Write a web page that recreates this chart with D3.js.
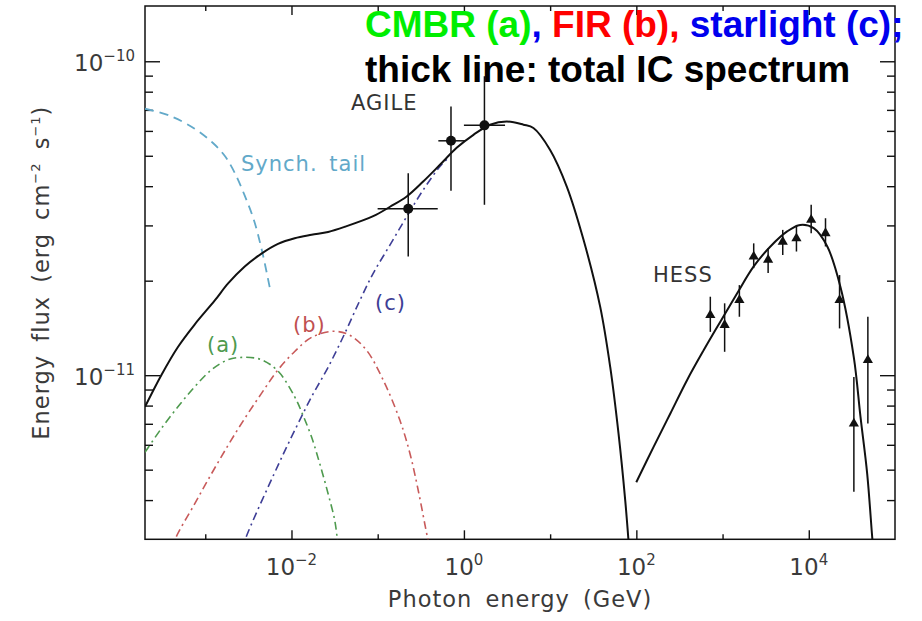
<!DOCTYPE html>
<html>
<head>
<meta charset="utf-8">
<script src="https://cdn.jsdelivr.net/npm/d3@7"></script>
<style>
  body { margin: 0; background: #fff; }
  .axis-text { font-family: "DejaVu Sans", sans-serif; }
  .caption { font-family: "Liberation Sans", Arial, sans-serif; font-weight: bold; }
</style>
</head>
<body>
<div id="container"></div>
<script>
// values: photon energy (GeV) , energy flux (erg cm^-2 s^-1)
const synchTail = [[2.0e-4, 7.06e-11], [3.86e-4, 6.71e-11], [7.53e-4, 6.10e-11], [1.22e-3, 5.50e-11],
  [1.68e-3, 5.00e-11], [2.20e-3, 4.41e-11], [2.87e-3, 3.73e-11], [3.65e-3, 3.13e-11], [4.52e-3, 2.51e-11],
  [5.60e-3, 1.90e-11]];

const cmbr = [[2.0e-4, 5.68e-12], [3.09e-4, 6.76e-12], [4.82e-4, 7.93e-12], [7.53e-4, 9.18e-12],
  [1.18e-3, 1.04e-11], [1.84e-3, 1.12e-11], [2.87e-3, 1.14e-11], [4.49e-3, 1.12e-11], [6.98e-3, 1.03e-11],
  [1.09e-2, 8.53e-12], [1.36e-2, 7.45e-12], [1.71e-2, 6.35e-12], [2.13e-2, 5.22e-12], [2.66e-2, 4.19e-12],
  [3.18e-2, 3.44e-12], [3.42e-2, 2.97e-12], [3.6e-2, 2.7e-12]];

const fir = [[4.1e-4, 2.7e-12], [4.41e-4, 2.97e-12], [7.53e-4, 3.89e-12], [1.18e-3, 4.85e-12], [1.84e-3, 5.98e-12],
  [2.87e-3, 7.28e-12], [4.49e-3, 8.75e-12], [6.98e-3, 1.04e-11], [1.09e-2, 1.19e-11], [1.71e-2, 1.32e-11],
  [3.04e-2, 1.38e-11], [4.75e-2, 1.34e-11], [7.43e-2, 1.20e-11], [0.116, 9.64e-12], [0.181, 7.18e-12],
  [0.237, 5.62e-12], [0.295, 4.30e-12], [0.370, 3.13e-12], [0.386, 2.97e-12], [0.40, 2.7e-12]];

const starlight = [[2.6e-3, 2.7e-12], [2.87e-3, 2.97e-12], [6.98e-3, 5.16e-12], [1.09e-2, 6.67e-12], [1.71e-2, 8.53e-12],
  [2.66e-2, 1.06e-11], [4.16e-2, 1.36e-11], [6.21e-2, 1.73e-11], [8.87e-2, 2.11e-11], [0.139, 2.60e-11],
  [0.217, 3.20e-11], [0.337, 3.89e-11], [0.527, 4.62e-11], [0.690, 4.98e-11]];

const icTotal = [[2.0e-4, 7.93e-12], [3.09e-4, 1.00e-11], [4.82e-4, 1.23e-11], [7.53e-4, 1.45e-11],
  [1.29e-3, 1.73e-11], [1.84e-3, 1.96e-11], [2.87e-3, 2.22e-11], [4.49e-3, 2.44e-11], [6.98e-3, 2.62e-11],
  [1.09e-2, 2.73e-11], [1.71e-2, 2.80e-11], [2.66e-2, 2.86e-11], [4.16e-2, 2.97e-11], [8.87e-2, 3.21e-11],
  [0.139, 3.44e-11], [0.217, 3.71e-11], [0.337, 4.14e-11], [0.527, 4.68e-11], [0.824, 5.30e-11],
  [1.29, 5.83e-11], [2.01, 6.28e-11], [3.14, 6.43e-11], [4.90, 6.28e-11], [6.40, 6.13e-11], [10.0, 5.22e-11],
  [15.6, 3.99e-11], [24.4, 2.70e-11], [38.1, 1.65e-11], [49.8, 1.06e-11], [62.1, 6.52e-12], [74.3, 3.99e-12],
  [81.1, 2.97e-12], [84, 2.6e-12]];

const icTotalTeV = [[99.8, 4.56e-12], [158, 5.90e-12], [248, 7.55e-12], [387, 9.64e-12], [603, 1.20e-11],
  [942, 1.48e-11], [1472, 1.82e-11], [2296, 2.22e-11], [3589, 2.57e-11], [5610, 2.87e-11], [7960, 3.01e-11],
  [11400, 2.94e-11], [16400, 2.57e-11], [23300, 1.91e-11], [33300, 1.14e-11], [39800, 7.36e-12],
  [47600, 4.85e-12], [54400, 3.05e-12], [56000, 2.8e-12]];

// AGILE points with energy bins and flux errors
const agileE = [0.226, 0.708, 1.73];
const agileElo = [0.0998, 0.505, 1.0];
const agileEhi = [0.497, 1.03, 3.0];
const agileF = [3.39e-11, 5.58e-11, 6.25e-11];
const agileFlo = [2.39e-11, 3.87e-11, 3.49e-11];
const agileFhi = [4.40e-11, 7.18e-11, 8.96e-11];

// HESS points
const hessE = [721, 1057, 1567, 2297, 3376, 4989, 7194, 10660, 15630, 22750, 33340, 48450];
const hessF = [1.554e-11, 1.445e-11, 1.734e-11, 2.387e-11, 2.330e-11, 2.662e-11, 2.728e-11, 3.126e-11, 2.832e-11, 1.734e-11, 7.01e-12, 1.117e-11];
const hessFlo = [1.374e-11, 1.187e-11, 1.535e-11, 2.193e-11, 2.114e-11, 2.414e-11, 2.477e-11, 2.832e-11, 2.570e-11, 1.409e-11, 4.25e-12, 7.01e-12];
const hessFhi = [1.778e-11, 1.694e-11, 1.936e-11, 2.630e-11, 2.535e-11, 2.903e-11, 3.011e-11, 3.491e-11, 3.162e-11, 2.084e-11, 9.87e-12, 1.535e-11];

// ticks
const xMajor = [1e-2, 1, 1e2, 1e4];
const xMajorExp = ["\u22122", "0", "2", "4"];
const xMinor = [1e-3, 1e-1, 1e1, 1e3];
const yMajor = [1e-11, 1e-10];
const yMajorExp = ["\u221211", "\u221210"];
const yMinor = [4e-12, 5e-12, 6e-12, 7e-12, 8e-12, 9e-12, 2e-11, 3e-11, 4e-11, 5e-11, 6e-11, 7e-11, 8e-11, 9e-11];

const margin = {top: 6, right: 27, bottom: 81.7, left: 145},
    width = 922 - margin.left - margin.right,
    height = 621 - margin.top - margin.bottom;

const root = d3.select("#container")
  .append("svg")
    .attr("width", 922)
    .attr("height", 621);

const svg = root.append("g")
    .attr("transform", `translate(${margin.left},${margin.top})`);

const x = d3.scaleLog().domain([2e-4, 1e5]).range([0, width]);
const y = d3.scaleLog().domain([3e-12, 1.5e-10]).range([height, 0]);

svg.append("clipPath").attr("id", "plotclip")
  .append("rect").attr("width", width).attr("height", height);

// axes, ticks pointing inwards on all four sides
function ticks(axis, vals, size, tr) {
  svg.append("g")
    .attr("transform", tr)
    .call(axis.tickValues(vals).tickSize(-size).tickSizeOuter(0).tickFormat(""))
    .call(g => g.select(".domain").remove())
    .selectAll("line").attr("stroke", "#111").attr("stroke-width", 1.4);
}
ticks(d3.axisBottom(x), xMajor, 9, `translate(0,${height})`);
ticks(d3.axisBottom(x), xMinor, 5, `translate(0,${height})`);
ticks(d3.axisTop(x), xMajor, 9, "translate(0,0)");
ticks(d3.axisTop(x), xMinor, 5, "translate(0,0)");
ticks(d3.axisLeft(y), yMajor, 15, "translate(0,0)");
ticks(d3.axisLeft(y), yMinor, 8, "translate(0,0)");
ticks(d3.axisRight(y), yMajor, 15, `translate(${width},0)`);
ticks(d3.axisRight(y), yMinor, 8, `translate(${width},0)`);

svg.append("rect")
  .attr("width", width).attr("height", height)
  .attr("fill", "none").attr("stroke", "#111").attr("stroke-width", 1.5);

// tick labels
xMajor.forEach(function(v, i) {
  const t = svg.append("text").attr("class", "axis-text")
    .attr("x", x(v)).attr("y", height + 36)
    .attr("text-anchor", "middle")
    .attr("font-size", 23).attr("fill", "#3a3a3a");
  t.append("tspan").text("10");
  t.append("tspan").attr("dy", -10).attr("font-size", 15).text(xMajorExp[i]);
});
yMajor.forEach(function(v, i) {
  const t = svg.append("text").attr("class", "axis-text")
    .attr("x", -10).attr("y", y(v) + 10)
    .attr("text-anchor", "end")
    .attr("font-size", 23).attr("fill", "#3a3a3a");
  t.append("tspan").text("10");
  t.append("tspan").attr("dy", -10).attr("font-size", 15).text(yMajorExp[i]);
});

// axis titles
svg.append("text").attr("class", "axis-text")
  .attr("x", width / 2).attr("y", height + 68)
  .attr("text-anchor", "middle")
  .attr("font-size", 22.5).attr("fill", "#3a3a3a")
  .style("letter-spacing", "1px").style("word-spacing", "5px")
  .text("Photon energy (GeV)");

const yl = svg.append("text").attr("class", "axis-text")
  .attr("transform", `translate(-96,${height / 2}) rotate(-90)`)
  .attr("text-anchor", "middle")
  .attr("font-size", 22.5).attr("fill", "#3a3a3a")
  .style("letter-spacing", "1px").style("word-spacing", "5px");
yl.append("tspan").text("Energy flux (erg cm");
yl.append("tspan").attr("dy", -9).attr("font-size", 13).text("\u22122");
yl.append("tspan").attr("dy", 9).text(" s");
yl.append("tspan").attr("dy", -9).attr("font-size", 13).text("\u22121");
yl.append("tspan").attr("dy", 9).text(")");

// curves
const line = d3.line()
  .x(d => x(d[0]))
  .y(d => y(d[1]))
  .curve(d3.curveCatmullRom.alpha(0.5));

const plot = svg.append("g").attr("clip-path", "url(#plotclip)");

plot.append("path").datum(synchTail)
  .attr("d", line).attr("fill", "none")
  .attr("stroke", "#62a9c9").attr("stroke-width", 1.8).attr("stroke-dasharray", "9,6");
plot.append("path").datum(cmbr)
  .attr("d", line).attr("fill", "none")
  .attr("stroke", "#4e9a4e").attr("stroke-width", 1.6).attr("stroke-dasharray", "8,4,2,4");
plot.append("path").datum(fir)
  .attr("d", line).attr("fill", "none")
  .attr("stroke", "#c85a5a").attr("stroke-width", 1.6).attr("stroke-dasharray", "8,4,2,4");
plot.append("path").datum(starlight)
  .attr("d", line).attr("fill", "none")
  .attr("stroke", "#3e3e96").attr("stroke-width", 1.6).attr("stroke-dasharray", "8,4,2,4");
plot.append("path").datum(icTotal)
  .attr("d", line).attr("fill", "none")
  .attr("stroke", "#111").attr("stroke-width", 2);
plot.append("path").datum(icTotalTeV)
  .attr("d", line).attr("fill", "none")
  .attr("stroke", "#111").attr("stroke-width", 2);

// AGILE points
agileE.forEach(function(e, i) {
  svg.append("line")
    .attr("x1", x(agileElo[i])).attr("x2", x(agileEhi[i]))
    .attr("y1", y(agileF[i])).attr("y2", y(agileF[i]))
    .attr("stroke", "#111").attr("stroke-width", 1.5);
  svg.append("line")
    .attr("x1", x(e)).attr("x2", x(e))
    .attr("y1", y(agileFlo[i])).attr("y2", y(agileFhi[i]))
    .attr("stroke", "#111").attr("stroke-width", 1.5);
});
svg.selectAll(".agile")
  .data(agileE)
  .join("circle")
    .attr("cx", d => x(d))
    .attr("cy", (d, i) => y(agileF[i]))
    .attr("r", 5)
    .attr("fill", "#111");

// HESS points
hessE.forEach(function(e, i) {
  svg.append("line")
    .attr("x1", x(e)).attr("x2", x(e))
    .attr("y1", y(hessFlo[i])).attr("y2", y(hessFhi[i]))
    .attr("stroke", "#111").attr("stroke-width", 1.5);
});
svg.selectAll(".hess")
  .data(hessE)
  .join("path")
    .attr("d", d3.symbol(d3.symbolTriangle, 45))
    .attr("transform", (d, i) => `translate(${x(d)},${y(hessF[i])})`)
    .attr("fill", "#111");

// labels in the plot
function label(txt, px, py, col) {
  svg.append("text").attr("class", "axis-text")
    .attr("x", px - margin.left).attr("y", py - margin.top)
    .attr("font-size", 21).attr("fill", col)
    .style("letter-spacing", "1px").style("word-spacing", "4px")
    .text(txt);
}
label("AGILE", 351, 110, "#333");
label("HESS", 653, 282, "#333");
label("Synch. tail", 241, 171, "#62a9c9");
label("(a)", 207, 352, "#4e9a4e");
label("(b)", 293, 332, "#c05050");
label("(c)", 375, 310, "#3e3e96");

// coloured caption on top
const c1 = root.append("text").attr("class", "caption")
  .attr("x", 365).attr("y", 36.5).attr("font-size", 37);
c1.append("tspan").attr("fill", "#00ee00").text("CMBR (a)");
c1.append("tspan").attr("fill", "#0000ee").text(", ");
c1.append("tspan").attr("fill", "#ff0000").text("FIR (b), ");
c1.append("tspan").attr("fill", "#0000ee").text("starlight (c);");
root.append("text").attr("class", "caption")
  .attr("x", 365).attr("y", 81.5).attr("font-size", 37).attr("fill", "#000")
  .text("thick line: total IC spectrum");
</script>
</body>
</html>
